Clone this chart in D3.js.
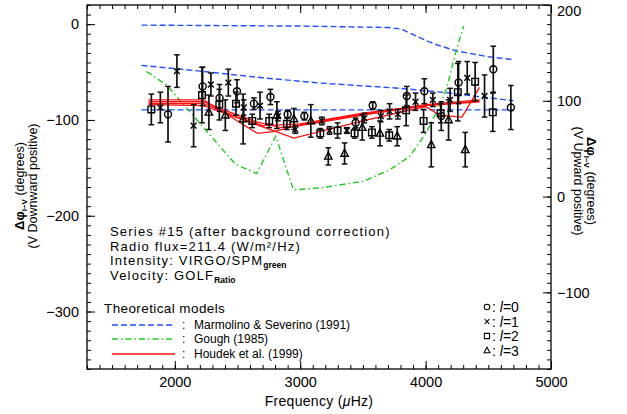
<!DOCTYPE html>
<html><head><meta charset="utf-8">
<script src="https://cdn.jsdelivr.net/npm/d3@7"></script>
<style>body{margin:0;background:#fff}svg{display:block}</style>
</head><body><svg id="c" width="627" height="414"></svg>
<script>
// ---------- data ----------
const freqDomain = [1300, 5000];
const phaseDomainLeft = [-360, 20];
const phaseDomainRight = [-180, 200];
const xTicks = [2000, 3000, 4000, 5000];
const yTicksLeft = [0, -100, -200, -300];
const yTicksRight = [200, 100, 0, -100];

// observed phase differences: [frequency µHz, Δφ (deg, left axis), error]
const l0 = [[1946,-94,29],[2222,-65,20],[2357,-77,14],[2496,-70,12],[2631,-83,6],[2763,-76,8],[2900,-94,4],[3033,-96,4],[3442,-103,5],[3578,-85,4],[3850,-75,10],[3990,-70,13],[4125,-96,15],[4263,-61,22],[4540,-47,24],[4680,-87,23]];
const l1 = [[1885,-87,16],[2017,-49,17],[2150,-106,22],[2288,-63,12],[2427,-61,14],[2550,-87,8],[2680,-85,14],[2822,-96,5],[2961,-110,4],[3173,-101,4],[3234,-111,4],[3372,-111,3],[3511,-98,5],[3643,-96,6],[3713,-91,8],[3779,-94,5],[3920,-81,9],[4058,-79,7],[4195,-79,12],[4332,-56,17],[4470,-75,22]];
const l2 = [[1813,-89,16],[2217,-74,29],[2355,-84,16],[2488,-83,12],[2618,-101,7],[2753,-101,7],[2894,-104,6],[3160,-114,5],[3298,-111,8],[3434,-114,5],[3572,-113,6],[3710,-116,6],[3845,-90,16],[3984,-101,12],[4120,-93,10],[4257,-71,30],[4395,-60,20],[4536,-92,20]];
const l3 = [[2272,-92,18],[2403,-95,16],[2545,-99,26],[2814,-95,14],[2950,-99,11],[3085,-101,17],[3224,-138,9],[3354,-135,11],[3495,-108,13],[3636,-114,13],[3774,-117,10],[4045,-126,23],[4183,-100,21],[4316,-131,18]];

// theoretical models
const marmolinoA = [[1735,-1],[3000,-2],[3700,-3.5],[3800,-5],[3870,-9],[4000,-17],[4100,-22],[4250,-28],[4500,-34],[4700,-37]];
const marmolinoB = [[1735,-43],[2200,-49],[2700,-56],[3160,-61.5],[3800,-67],[4200,-72],[4700,-80]];
const marmolinoC = [[1735,-89.5],[4700,-89.5]];
const gough = [[1775,-49.5],[1930,-63],[2482,-146],[2652,-156],[2805,-117],[2946,-173],[3157,-171],[3505,-164],[3714,-152],[3874,-138],[4007,-113],[4086,-92],[4166,-68],[4245,-27],[4304,-2]];
const houdek1 = [[1790,-79],[2230,-79],[2660,-114],[2800,-112],[3000,-105],[3500,-94],[4000,-84],[4430,-79]];
const houdek2 = [[1790,-81],[2230,-81],[2400,-90],[2650,-102],[2850,-108],[3000,-106],[3500,-95],[4000,-85],[4430,-80]];
const houdek3 = [[1790,-84],[2230,-85],[2400,-93],[2950,-119],[3500,-101],[4000,-86],[4110,-95],[4290,-97],[4430,-66]];
const houdek4 = [[1790,-83],[2230,-83],[2500,-97],[2700,-106],[3000,-104],[3500,-93],[4000,-85],[4430,-81]];

// ---------- chart ----------
const svg = d3.select("#c");
const L = 87, R = 551, T = 5, B = 369;
const x = d3.scaleLinear().domain(freqDomain).range([L, R]);
const yL = d3.scaleLinear().domain(phaseDomainLeft).range([B, T]);
const yR = d3.scaleLinear().domain(phaseDomainRight).range([B, T]);
const tickFont = "Liberation Sans, Arial, sans-serif";

svg.append("rect").attr("width",627).attr("height",414).attr("fill","#fff");

function styleAxis(g, showLabels){
  g.select(".domain").remove();
  g.selectAll(".tick line").attr("stroke","#000").attr("stroke-width",1);
  g.selectAll(".tick text").attr("fill","#000").attr("font-family",tickFont).attr("font-size",14.5);
  if(!showLabels) g.selectAll(".tick text").remove();
}
// bottom
svg.append("g").attr("transform",`translate(0,${B})`)
  .call(d3.axisBottom(x).tickValues(d3.range(1300,5001,100)).tickSize(-4)).call(g=>styleAxis(g,false));
svg.append("g").attr("transform",`translate(0,${B})`)
  .call(d3.axisBottom(x).tickValues(xTicks).tickSize(-8).tickPadding(8).tickFormat(d3.format("d"))).call(g=>styleAxis(g,true));
// top
svg.append("g").attr("transform",`translate(0,${T})`)
  .call(d3.axisTop(x).tickValues(d3.range(1300,5001,100)).tickSize(-4)).call(g=>styleAxis(g,false));
svg.append("g").attr("transform",`translate(0,${T})`)
  .call(d3.axisTop(x).tickValues(xTicks).tickSize(-8)).call(g=>styleAxis(g,false));
// left
svg.append("g").attr("transform",`translate(${L},0)`)
  .call(d3.axisLeft(yL).tickValues(d3.range(-360,21,10)).tickSize(-4)).call(g=>styleAxis(g,false));
svg.append("g").attr("transform",`translate(${L},0)`)
  .call(d3.axisLeft(yL).tickValues(yTicksLeft).tickSize(-8).tickPadding(8)).call(g=>styleAxis(g,true));
// right
svg.append("g").attr("transform",`translate(${R},0)`)
  .call(d3.axisRight(yR).tickValues(d3.range(-180,201,10)).tickSize(-4)).call(g=>styleAxis(g,false));
const rAx = svg.append("g").attr("transform",`translate(${R},0)`)
  .call(d3.axisRight(yR).tickValues(yTicksRight).tickSize(-8).tickPadding(6)).call(g=>styleAxis(g,true));
rAx.selectAll(".tick text").filter(d=>d===200).attr("dy","0.75em");

// frame
svg.append("rect").attr("x",L).attr("y",T).attr("width",R-L).attr("height",B-T)
  .attr("fill","none").attr("stroke","#000").attr("stroke-width",1.3);

// clip
svg.append("clipPath").attr("id","clip").append("rect").attr("x",L).attr("y",T).attr("width",R-L).attr("height",B-T);
const plot = svg.append("g").attr("clip-path","url(#clip)");

const line = d3.line().x(d=>x(d[0])).y(d=>yL(d[1]));
const BLUE="#1f4fff", GREEN="#22c922", RED="#ff1010";
[marmolinoA, marmolinoB, marmolinoC].forEach(s=>plot.append("path").attr("d",line(s))
  .attr("fill","none").attr("stroke",BLUE).attr("stroke-width",1.4).attr("stroke-dasharray","6,3"));
plot.append("path").attr("d",line(gough)).attr("fill","none").attr("stroke",GREEN)
  .attr("stroke-width",1.4).attr("stroke-dasharray","6,3,1.5,3");
[houdek1, houdek2, houdek3, houdek4].forEach(s=>plot.append("path").attr("d",line(s))
  .attr("fill","none").attr("stroke",RED).attr("stroke-width",1.3));

// symbols
const sym = {
  circle: "M3.5,0A3.5,3.5 0 1,1 -3.5,0A3.5,3.5 0 1,1 3.5,0Z",
  times: "M-2.9,-2.9L2.9,2.9M-2.9,2.9L2.9,-2.9",
  square: "M-3.3,-3.3H3.3V3.3H-3.3Z",
  triangle: "M0,-4.2L3.7,2.8H-3.7Z"
};
function drawSeries(data, path){
  const g = plot.append("g");
  data.forEach(d=>{
    const cx = x(d[0]), y1 = yL(d[1]+d[2]), y2 = yL(d[1]-d[2]);
    g.append("line").attr("x1",cx).attr("x2",cx).attr("y1",y1).attr("y2",y2).attr("stroke","#111").attr("stroke-width",1.7);
    g.append("line").attr("x1",cx-2.8).attr("x2",cx+2.8).attr("y1",y1).attr("y2",y1).attr("stroke","#111").attr("stroke-width",1.5);
    g.append("line").attr("x1",cx-2.8).attr("x2",cx+2.8).attr("y1",y2).attr("y2",y2).attr("stroke","#111").attr("stroke-width",1.5);
  });
  g.selectAll("path.m").data(data).join("path").attr("class","m")
    .attr("transform",d=>`translate(${x(d[0])},${yL(d[1])})`).attr("d",path)
    .attr("fill","none").attr("stroke","#000").attr("stroke-width",1.4);
}
drawSeries(l0, sym.circle);
drawSeries(l1, sym.times);
drawSeries(l2, sym.square);
drawSeries(l3, sym.triangle);

// annotation text block
const ann = svg.append("g").attr("font-family",tickFont).attr("font-size",13).attr("letter-spacing",1.2).attr("fill","#000");
ann.append("text").attr("x",110).attr("y",236).text("Series #15 (after background correction)");
ann.append("text").attr("x",110).attr("y",250.5).text("Radio flux=211.4 (W/m\u00B2/Hz)");
const t3 = ann.append("text").attr("x",110).attr("y",265);
t3.append("tspan").text("Intensity: VIRGO/SPM");
t3.append("tspan").attr("font-size",8.5).attr("letter-spacing",0).attr("font-weight","bold").attr("dy",3).text("green");
const t4 = ann.append("text").attr("x",110).attr("y",279.5);
t4.append("tspan").text("Velocity: GOLF");
t4.append("tspan").attr("font-size",8.5).attr("letter-spacing",0).attr("font-weight","bold").attr("dy",3).text("Ratio");

// model legend
const lg = svg.append("g").attr("font-family",tickFont).attr("fill","#000");
lg.append("text").attr("x",104).attr("y",313).attr("font-size",13.5).attr("letter-spacing",0.4).text("Theoretical models");
const legendItems = [
  {label:"Marmolino & Severino (1991)", color:BLUE, dash:"6,3", y:325},
  {label:"Gough (1985)", color:GREEN, dash:"6,3,1.5,3", y:339},
  {label:"Houdek et al. (1999)", color:RED, dash:null, y:354}
];
legendItems.forEach(it=>{
  lg.append("line").attr("x1",112).attr("x2",175).attr("y1",it.y).attr("y2",it.y)
    .attr("stroke",it.color).attr("stroke-width",1.4).attr("stroke-dasharray",it.dash);
  lg.append("text").attr("x",182).attr("y",it.y+4).attr("font-size",12).text(":");
  lg.append("text").attr("x",194).attr("y",it.y+4).attr("font-size",12).text(it.label);
});

// symbol legend
const symLegend = [sym.circle, sym.times, sym.square, sym.triangle];
const degreeLabels = ["0","1","2","3"];
symLegend.forEach((p,i)=>{
  const cy = 307 + i*14.5;
  svg.append("path").attr("d",p).attr("transform",`translate(487,${cy}) scale(0.8)`)
    .attr("fill","none").attr("stroke","#000").attr("stroke-width",1.3);
  const t = svg.append("text").attr("x",492).attr("y",cy+5).attr("font-family",tickFont).attr("font-size",14);
  t.append("tspan").text(": ");
  t.append("tspan").attr("font-style","italic").text("l");
  t.append("tspan").text("=" + degreeLabels[i]);
});

// axis titles
const xt = svg.append("text").attr("x",319).attr("y",406).attr("text-anchor","middle")
  .attr("font-family",tickFont).attr("font-size",14).attr("letter-spacing",0.3);
xt.append("tspan").text("Frequency (");
xt.append("tspan").attr("font-style","italic").text("\u03BC");
xt.append("tspan").text("Hz)");

function phaseTitle(g){
  g.append("tspan").attr("font-weight","bold").attr("font-size",13).text("\u0394\u03C6");
  g.append("tspan").attr("font-size",8).attr("font-weight","bold").attr("dy",3).text("I\u2212V");
  g.append("tspan").attr("dy",-3).text(" (degrees)");
}
const lt1 = svg.append("text").attr("transform","translate(24,186) rotate(-90)").attr("text-anchor","middle")
  .attr("font-family",tickFont).attr("font-size",12.5);
phaseTitle(lt1);
svg.append("text").attr("transform","translate(37,186) rotate(-90)").attr("text-anchor","middle")
  .attr("font-family",tickFont).attr("font-size",12.5).text("(V Downward positive)");
const rt1 = svg.append("text").attr("transform","translate(587,181) rotate(90)").attr("text-anchor","middle")
  .attr("font-family",tickFont).attr("font-size",12.5);
phaseTitle(rt1);
svg.append("text").attr("transform","translate(574,181) rotate(90)").attr("text-anchor","middle")
  .attr("font-family",tickFont).attr("font-size",12.5).text("(V Upward positive)");
</script></body></html>
